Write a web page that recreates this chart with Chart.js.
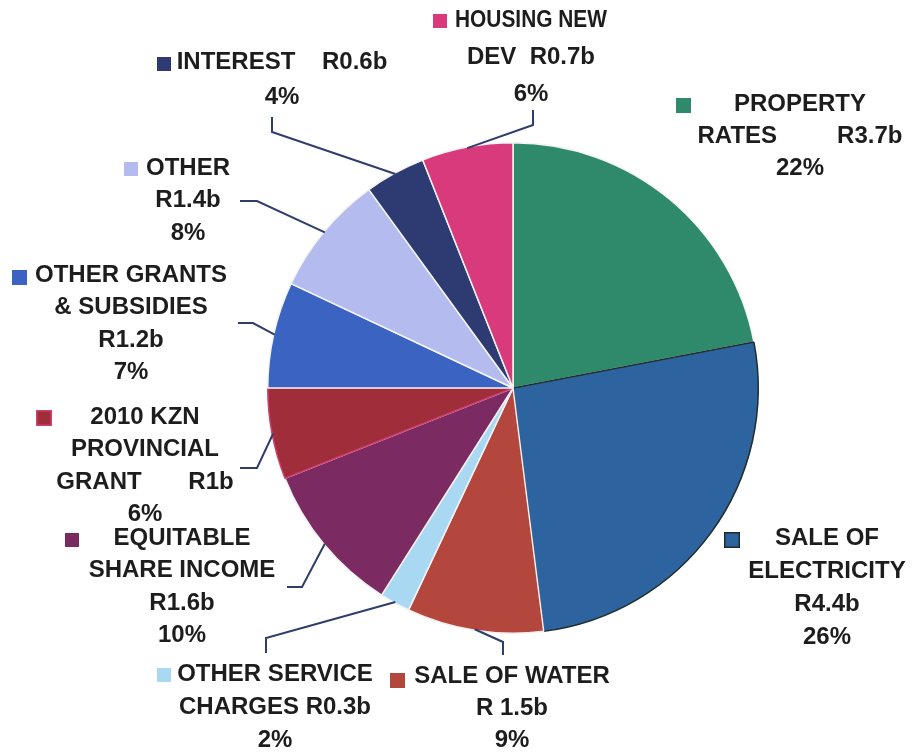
<!DOCTYPE html>
<html>
<head>
<meta charset="utf-8">
<script src="https://cdn.jsdelivr.net/npm/chart.js@4.4.1/dist/chart.umd.min.js"></script>
<style>
  html, body { margin: 0; padding: 0; background: #ffffff; }
  #wrap { width: 914px; height: 752px; }
</style>
</head>
<body>
<div id="wrap"><canvas id="pie" width="914" height="752"></canvas></div>
<script>
// Revenue sources, clockwise from 12 o'clock
const categories = ['PROPERTY RATES', 'SALE OF ELECTRICITY', 'SALE OF WATER', 'OTHER SERVICE CHARGES',
  'EQUITABLE SHARE INCOME', '2010 KZN PROVINCIAL GRANT', 'OTHER GRANTS & SUBSIDIES', 'OTHER',
  'INTEREST', 'HOUSING NEW DEV'];
const shares = [22, 26, 9, 2, 10, 6, 7, 8, 4, 6];           // percent of total revenue
const amounts = ['R3.7b', 'R4.4b', 'R 1.5b', 'R0.3b', 'R1.6b', 'R1b', 'R1.2b', 'R1.4b', 'R0.6b', 'R0.7b'];

// Label text per slice ({amt} and {pct} are filled from the arrays above)
const labelLines = [
  ['PROPERTY', 'RATES         {amt}', '{pct}%'],
  ['SALE OF', 'ELECTRICITY', '{amt}', '{pct}%'],
  ['SALE OF WATER', '{amt}', '{pct}%'],
  ['OTHER SERVICE', 'CHARGES {amt}', '{pct}%'],
  ['EQUITABLE', 'SHARE INCOME', '{amt}', '{pct}%'],
  ['2010 KZN', 'PROVINCIAL', 'GRANT       {amt}', '{pct}%'],
  ['OTHER GRANTS', '& SUBSIDIES', '{amt}', '{pct}%'],
  ['OTHER', '{amt}', '{pct}%'],
  ['INTEREST    {amt}', '{pct}%'],
  ['HOUSING NEW', 'DEV  {amt}', '{pct}%']
];

// Styling
const sliceColors = ['#2e8a6b', '#2d64a0', '#b4473d', '#a9d9f2', '#7b2a62',
  '#a02e3a', '#3a63c2', '#b4bbee', '#2d3b72', '#d83a7c'];
const sliceBorders = ['#f4f4f4', '#1f2e2a', '#f6eeee', '#f4f4f4', '#f4eef2',
  '#d04070', '#f4f4f4', '#f4f4f4', '#f4f4f4', '#f4f4f4'];

// Label placement: text centre x, first line centre y, line step, key square,
// optional condensed width of the first line, leader elbow points
const labelLayout = [
  { cx: 800, y0: 104, lh: 32,   key: [676, 98, 15],  keyLine: null, leader: null },
  { cx: 827, y0: 538, lh: 33,   key: [724, 532, 16], keyLine: '#1f2e2a', leader: null },
  { cx: 512, y0: 676, lh: 32,   key: [390, 673, 15], keyLine: null, leader: [[503, 642], [503, 655]] },
  { cx: 275, y0: 674, lh: 33,   key: [157, 668, 14], keyLine: null, leader: [[266, 638], [266, 653]] },
  { cx: 182, y0: 538, lh: 32.5, key: [65, 533, 14],  keyLine: null, leader: [[302, 587], [287, 587]] },
  { cx: 145, y0: 417, lh: 32.5, key: [36, 410, 16],  keyLine: '#d04070', leader: [[257, 468], [240, 468]] },
  { cx: 131, y0: 275, lh: 32.5, key: [12, 270, 15],  keyLine: null, leader: [[253, 323], [238, 323]] },
  { cx: 188, y0: 168, lh: 32.5, key: [124, 162, 14], keyLine: null, leader: [[257, 201], [240, 201]] },
  { cx: 282, y0: 62,  lh: 35,   key: [157, 57, 14],  keyLine: null, leader: [[272, 132], [272, 117]] },
  { cx: 531, y0: 20,  lh: 37,   key: [433, 14, 14],  keyLine: null, firstWidth: 152, leader: [[533, 125], [533, 110]] }
];

const LABEL_FONT = 'bold 24px "Liberation Sans", Arial, sans-serif';
const TEXT_COLOR = '#1d1d1d';
const LEADER_COLOR = '#2e3d6c';

const calloutPlugin = {
  id: 'callouts',
  afterDatasetsDraw(chart) {
    const ctx = chart.ctx;
    const arcs = chart.getDatasetMeta(0).data;
    ctx.save();
    // leader lines from each slice edge to its label
    ctx.strokeStyle = LEADER_COLOR;
    ctx.lineWidth = 2;
    ctx.lineJoin = 'miter';
    arcs.forEach((arc, i) => {
      const lay = labelLayout[i];
      if (!lay.leader) return;
      const p = arc.getProps(['x', 'y', 'startAngle', 'endAngle', 'outerRadius'], true);
      const mid = (p.startAngle + p.endAngle) / 2;
      const r = p.outerRadius - 1;
      ctx.beginPath();
      ctx.moveTo(p.x + Math.cos(mid) * r, p.y + Math.sin(mid) * r);
      lay.leader.forEach(pt => ctx.lineTo(pt[0], pt[1]));
      ctx.stroke();
    });
    // label text and key squares
    ctx.font = LABEL_FONT;
    ctx.textAlign = 'center';
    ctx.textBaseline = 'middle';
    ctx.fillStyle = TEXT_COLOR;
    labelLines.forEach((lines, i) => {
      const lay = labelLayout[i];
      lines.forEach((t, k) => {
        const txt = t.replace('{amt}', amounts[i]).replace('{pct}', shares[i]);
        if (k === 0 && lay.firstWidth) {
          ctx.fillText(txt, lay.cx, lay.y0, lay.firstWidth);
        } else {
          ctx.fillText(txt, lay.cx, lay.y0 + k * lay.lh);
        }
      });
      const [kx, ky, ks] = lay.key;
      ctx.fillStyle = sliceColors[i];
      ctx.fillRect(kx, ky, ks, ks);
      if (lay.keyLine) {
        ctx.strokeStyle = lay.keyLine;
        ctx.lineWidth = 1.5;
        ctx.strokeRect(kx + 0.75, ky + 0.75, ks - 1.5, ks - 1.5);
      }
      ctx.fillStyle = TEXT_COLOR;
    });
    ctx.restore();
  }
};

new Chart(document.getElementById('pie'), {
  type: 'pie',
  data: {
    labels: categories,
    datasets: [{
      data: shares,
      backgroundColor: sliceColors,
      borderColor: sliceBorders,
      borderWidth: 1.5
    }]
  },
  options: {
    responsive: false,
    animation: false,
    layout: { padding: { top: 142, bottom: 118, left: 267, right: 155 } },
    plugins: {
      legend: { display: false },
      tooltip: { enabled: false }
    }
  },
  plugins: [calloutPlugin]
});
</script>
</body>
</html>
